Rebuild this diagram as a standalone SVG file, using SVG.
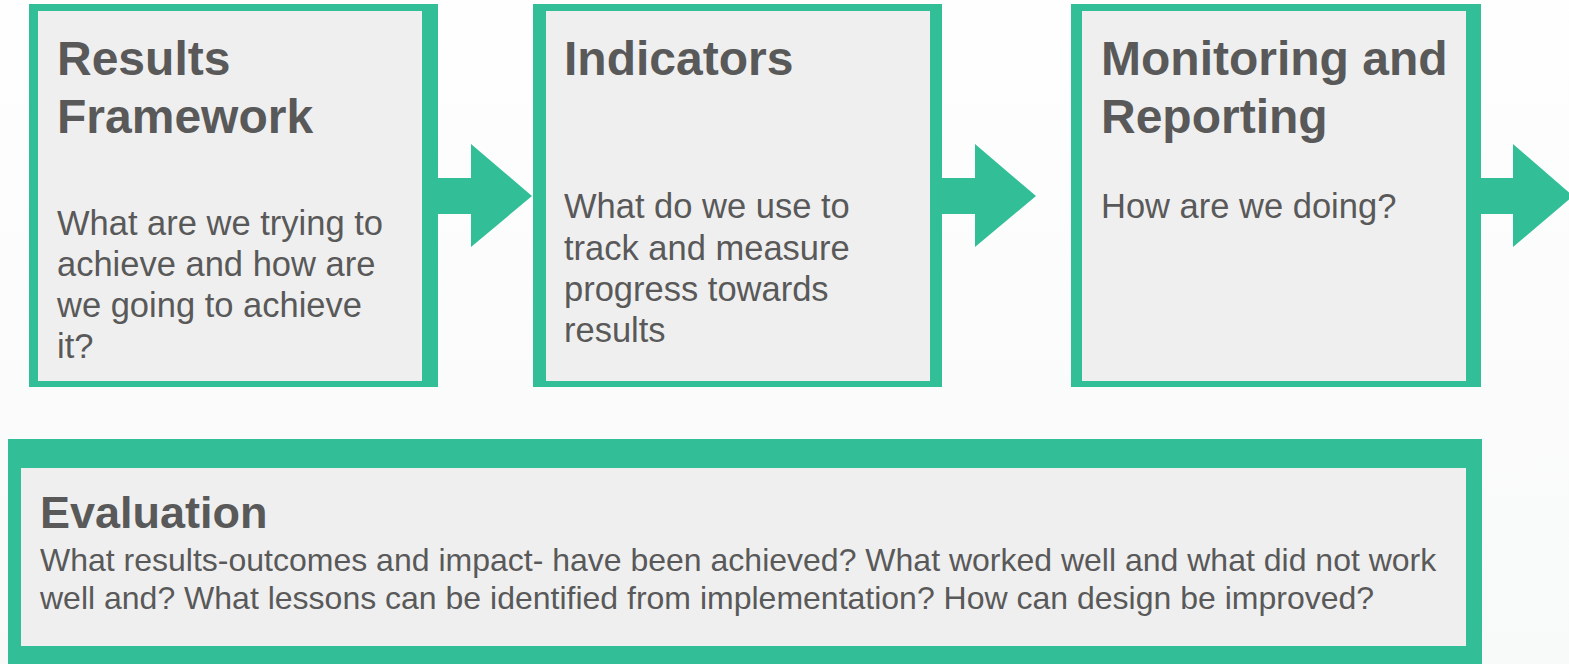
<svg xmlns="http://www.w3.org/2000/svg" width="1569" height="664" viewBox="0 0 1569 664">
<defs>
<linearGradient id="bg" x1="0" y1="0" x2="0" y2="1">
<stop offset="0" stop-color="#fdfefd"/>
<stop offset="1" stop-color="#f8faf9"/>
</linearGradient>
</defs>
<style>
.frame{fill:#32bf98}
.inner{fill:#efefef}
.arrow{fill:#32bf98}
.title{font-family:"Liberation Sans",Arial,sans-serif;font-weight:bold;font-size:48px;fill:#595959}
.body{font-family:"Liberation Sans",Arial,sans-serif;font-size:34.5px;fill:#595959}
.etitle{font-family:"Liberation Sans",Arial,sans-serif;font-weight:bold;font-size:45px;fill:#595959}
.ebody{font-family:"Liberation Sans",Arial,sans-serif;font-size:32px;fill:#595959}
</style>
<rect x="0" y="0" width="1569" height="664" fill="url(#bg)"/>
<g id="connectors">
<polygon class="arrow" points="436,178 471,178 471,144 532,196 471,247 471,214 436,214"/>
<polygon class="arrow" points="940,178 975,178 975,144 1036,196 975,247 975,214 940,214"/>
<polygon class="arrow" points="1479,178 1513,178 1513,144 1573,196 1513,247 1513,214 1479,214"/>
</g>
<g id="results-framework">
<rect class="frame" x="29" y="4" width="409" height="383"/>
<rect class="inner" x="38" y="11" width="384" height="370"/>
<text class="title" x="57" y="75">Results</text>
<text class="title" x="57" y="133">Framework</text>
<text class="body" x="57" y="235">What are we trying to</text>
<text class="body" x="57" y="276">achieve and how are</text>
<text class="body" x="57" y="317">we going to achieve</text>
<text class="body" x="57" y="358">it?</text>
</g>
<g id="indicators">
<rect class="frame" x="533" y="4" width="409" height="383"/>
<rect class="inner" x="546" y="11" width="384" height="370"/>
<text class="title" x="564" y="75">Indicators</text>
<text class="body" x="564" y="218">What do we use to</text>
<text class="body" x="564" y="260">track and measure</text>
<text class="body" x="564" y="301">progress towards</text>
<text class="body" x="564" y="342">results</text>
</g>
<g id="monitoring-reporting">
<rect class="frame" x="1071" y="4" width="410" height="383"/>
<rect class="inner" x="1082" y="11" width="384" height="370"/>
<text class="title" x="1101" y="75">Monitoring and</text>
<text class="title" x="1101" y="133">Reporting</text>
<text class="body" x="1101" y="218">How are we doing?</text>
</g>
<g id="evaluation">
<rect class="frame" x="8" y="439" width="1474" height="225"/>
<rect class="inner" x="21" y="468" width="1445" height="178"/>
<text class="etitle" x="40" y="528">Evaluation</text>
<text class="ebody" x="40" y="571">What results-outcomes and impact- have been achieved? What worked well and what did not work</text>
<text class="ebody" x="40" y="609">well and? What lessons can be identified from implementation? How can design be improved?</text>
</g>
</svg>
